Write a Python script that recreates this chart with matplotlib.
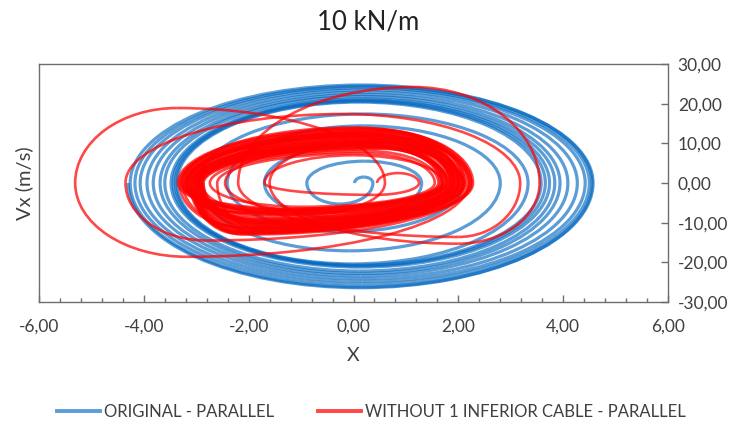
import matplotlib
matplotlib.use("Agg")
from matplotlib import pyplot as plt
from matplotlib.patches import Arc
from matplotlib.lines import Line2D
from matplotlib.ticker import MultipleLocator, FuncFormatter

# Each cycle of an orbit: left turning point (v = 0) -> top peak -> right turning point -> bottom peak -> next left.
# ORIGINAL - PARALLEL (blue): spiral out from the centre, peaks sit mid-way between turning points
blue_left = [0.02, -0.89, -1.70, -2.41, -2.95, -3.37, -3.40, -3.44, -3.48, -3.60,
             -3.69, -3.82, -3.94, -4.07, -4.17, -4.26, -4.30]
blue_top_v = [1.5, 5.5, 9.8, 14.4, 17.4, 20.4, 20.6, 20.9, 21.2, 21.8,
              22.3, 22.9, 23.5, 24.0, 24.4, 24.7]
blue_right = [0.37, 1.30, 2.09, 2.80, 3.33, 3.58, 3.66, 3.74, 3.84, 3.94,
              4.09, 4.27, 4.42, 4.50, 4.57, 4.55]
blue_bot_v = [-5.3, -9.0, -12.3, -17.1, -20.4, -20.7, -20.9, -21.2, -22.2, -22.8,
              -23.4, -24.1, -24.8, -25.5, -26.2, -26.4]

# WITHOUT 1 INFERIOR CABLE - PARALLEL (red)
red_left = [0.45, -1.70, -2.45, -3.20, -4.35, -2.20, -1.60, -2.60, -2.74,
            -3.30, -3.10, -2.95, -3.20, -3.05, -2.90, -3.25, -3.00, -3.15, -2.88,
            -3.35, -3.08, -2.97, -3.18, -3.02, -2.92,
            -2.90, -5.31,
            -3.28, -3.12, -2.99, -3.22, -3.06, -2.94, -3.14, -3.32, -3.04, -2.86,
            -3.16, -3.26, -3.09, -2.96, -3.20, -3.01, -2.87]
red_top_x = [0.85, 0.00, 0.10, 0.40, -0.20, 1.14, 0.30, 0.20, 0.30,
             0.3, 0.5, 0.1, 0.6, 0.2, 0.4, 0.0, 0.7, 0.3, 0.5,
             0.2, 0.6, 0.1, 0.4, 0.8, 0.3,
             0.4, -3.37,
             0.5, 0.0, 0.6, 0.2, 0.4, 0.7, 0.1, 0.3, 0.5, 0.6,
             0.2, 0.4, 0.0, 0.5, 0.3, 0.6]
red_top_v = [2.5, 7.0, 9.5, 12.0, 17.4, 24.2, 10.5, 7.5, 8.0,
             13.5, 11.0, 9.5, 12.5, 10.5, 9.0, 14.0, 10.0, 12.0, 8.8,
             13.8, 11.5, 9.8, 12.8, 10.8, 9.4,
             12.0, 18.9,
             13.2, 11.8, 10.0, 12.2, 11.2, 9.2, 12.6, 13.6, 10.2, 8.6,
             12.0, 13.0, 11.4, 9.6, 12.4, 10.6]
red_right = [1.25, 1.70, 2.10, 2.25, 3.18, 3.55, 2.00, 1.55, 1.62,
             2.10, 1.90, 1.80, 2.00, 1.95, 1.72, 2.20, 1.85, 2.05, 1.68,
             2.28, 1.92, 1.78, 2.02, 1.88, 1.75,
             2.20, 0.60,
             2.15, 1.97, 1.82, 2.08, 1.93, 1.70, 1.99, 2.24, 1.86, 1.65,
             2.04, 2.12, 1.91, 1.77, 2.01, 1.84]
red_bot_x = [0.40, -0.60, -1.20, -2.80, 2.00, 2.00, -1.80, -1.00, -1.20,
             -2.0, -1.7, -2.1, -1.8, -1.9, -1.6, -2.1, -1.8, -2.0, -1.5,
             -2.2, -1.9, -1.7, -2.1, -1.8, -1.6,
             -3.18, -1.00,
             -2.2, -1.9, -1.7, -2.0, -1.8, -1.6, -2.1, -2.2, -1.9, -1.5,
             -2.0, -2.1, -1.8, -1.7, -2.0, -1.9]
red_bot_v = [-3.0, -7.5, -10.5, -14.5, -13.6, -15.3, -11.5, -6.0, -6.5,
             -12.5, -9.5, -7.5, -11.5, -10.0, -7.0, -13.0, -9.0, -11.0, -6.8,
             -12.8, -10.5, -8.0, -12.0, -9.8, -7.5,
             -18.6, -8.0,
             -12.2, -10.8, -8.5, -11.8, -10.2, -7.2, -11.2, -12.6, -9.2, -6.6,
             -11.4, -12.4, -10.4, -7.8, -11.6, -9.6]

x_ticks = [-6, -4, -2, 0, 2, 4, 6]
y_ticks = [-30, -20, -10, 0, 10, 20, 30]

BLUE = "#0066c0"
RED = "#ff0000"


def draw_orbit(ax, left, top_x, top_v, right, bot_x, bot_v, color, alpha, lw):
    # quarter ellipses joining turning points and peaks, so the orbit is smooth
    for i in range(len(right)):
        l0, tx, tv, r, bx, bv, l1 = left[i], top_x[i], top_v[i], right[i], bot_x[i], bot_v[i], left[i + 1]
        quarters = [
            (tx, tx - l0, tv, 90, 180),
            (tx, r - tx, tv, 0, 90),
            (bx, r - bx, -bv, 270, 360),
            (bx, bx - l1, -bv, 180, 270),
        ]
        for cx, a, b, t1, t2 in quarters:
            ax.add_patch(Arc((cx, 0), 2 * a, 2 * b, theta1=t1, theta2=t2,
                             color=color, alpha=alpha, lw=lw))


plt.rcParams["font.family"] = ["Lato", "DejaVu Sans"]
fig = plt.figure(figsize=(7.4, 4.28), dpi=100)
ax = fig.add_axes([39 / 740, 1 - 302 / 428, 629 / 740, 238 / 428])

blue_top_x = [(blue_left[i] + blue_right[i]) / 2 for i in range(len(blue_right))]
blue_bot_x = [(blue_right[i] + blue_left[i + 1]) / 2 for i in range(len(blue_right))]
draw_orbit(ax, blue_left, blue_top_x, blue_top_v, blue_right, blue_bot_x, blue_bot_v,
           BLUE, 0.64, 2.3)
draw_orbit(ax, red_left, red_top_x, red_top_v, red_right, red_bot_x, red_bot_v,
           RED, 0.72, 1.9)

ax.set_xlim(-6, 6)
ax.set_ylim(-30, 30)
ax.set_xticks(x_ticks)
ax.set_yticks(y_ticks)
ax.xaxis.set_minor_locator(MultipleLocator(0.4))
fmt = FuncFormatter(lambda v, p: f"{v:.2f}".replace(".", ","))
ax.xaxis.set_major_formatter(fmt)
ax.yaxis.set_major_formatter(fmt)
ax.yaxis.tick_right()
ax.yaxis.set_label_position("left")
ax.tick_params(axis="x", which="major", direction="in", length=5, width=1,
               color="#6e6e6e", labelsize=12.5, labelcolor="#404040", pad=12)
ax.tick_params(axis="x", which="minor", direction="in", length=3, width=1, color="#6e6e6e")
ax.tick_params(axis="y", which="major", direction="in", length=5, width=1,
               color="#6e6e6e", labelsize=12.5, labelcolor="#404040", pad=7)
for s in ax.spines.values():
    s.set_color("#6e6e6e")
    s.set_linewidth(1)

ax.set_xlabel("X", fontsize=14, color="#404040", labelpad=9)
ax.set_ylabel("Vx (m/s)", fontsize=14.5, color="#404040", labelpad=4)
fig.text(0.497, 1 - 22 / 428, "10 kN/m", ha="center", va="center", fontsize=18.5, color="#222222")

handles = [Line2D([], [], color=BLUE, alpha=0.64, lw=2.8),
           Line2D([], [], color=RED, alpha=0.72, lw=2.8)]
fig.legend(handles, ["ORIGINAL - PARALLEL", "WITHOUT 1 INFERIOR CABLE - PARALLEL"],
           loc="center", bbox_to_anchor=(0.502, 1 - 412 / 428), ncol=2, frameon=False,
           fontsize=12, labelcolor="#404040", handlelength=2.6, handletextpad=0.25,
           columnspacing=2.6)

fig.savefig("out.png", dpi=100)
